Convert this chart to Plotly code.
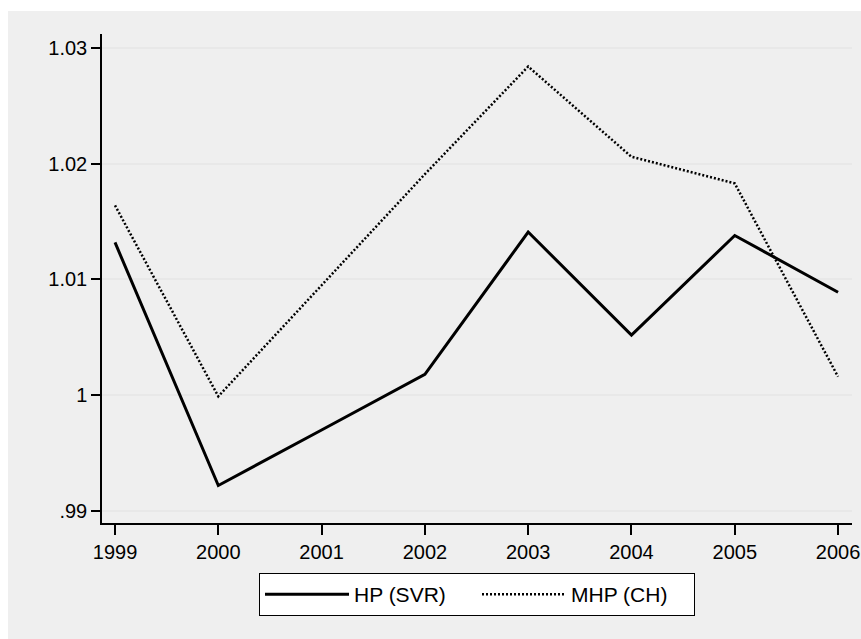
import plotly.graph_objects as go

years = [1999, 2000, 2001, 2002, 2003, 2004, 2005, 2006]
hp_svr = [1.0132, 0.9922, 0.9970, 1.0018, 1.0141, 1.0052, 1.0138, 1.0089]
mhp_ch = [1.0164, 0.9999, 1.0095, 1.0191, 1.0284, 1.0206, 1.0183, 1.0016]
y_ticks = [0.99, 1.0, 1.01, 1.02, 1.03]
y_labels = [".99", "1", "1.01", "1.02", "1.03"]

FONT = "Liberation Sans, Arial, sans-serif"
FS = 20

fig = go.Figure()
fig.add_trace(go.Scatter(x=years, y=hp_svr, mode="lines", name="HP (SVR)",
                         line=dict(color="black", width=3)))
fig.add_trace(go.Scatter(x=years, y=mhp_ch, mode="lines", name="MHP (CH)",
                         line=dict(color="black", width=2.5, dash="2px,2px")))

L, R, T, B = 102, 9, 34, 116
W, H = 861, 639
pw = W - L - R
ph = H - T - B

def px_to_paper_x(px):
    return (px - L) / pw

def px_to_paper_y(py):
    return (H - B - py) / ph

fig.add_shape(type="rect", xref="paper", yref="paper",
              x0=px_to_paper_x(8), x1=px_to_paper_x(861),
              y0=px_to_paper_y(639), y1=px_to_paper_y(11),
              fillcolor="#efefef", line=dict(width=0), layer="below")

fig.update_layout(
    width=W, height=H,
    margin=dict(l=L, r=R, t=T, b=B, pad=0, autoexpand=False),
    paper_bgcolor="white", plot_bgcolor="white",
    font=dict(family=FONT, size=FS, color="black"),
    showlegend=True,
    legend=dict(orientation="h", x=0.5, xanchor="center",
                y=px_to_paper_y(573), yanchor="top",
                bgcolor="white", bordercolor="black", borderwidth=1,
                font=dict(family=FONT, size=21, color="black"),
                itemwidth=84, entrywidth=118, entrywidthmode="pixels",
                tracegroupgap=0),
    xaxis=dict(range=[1998.874, 2006.135], tickmode="array", tickvals=years,
               ticktext=[str(y) for y in years],
               showgrid=False, zeroline=False, showline=True, linecolor="black",
               linewidth=1.5, ticks="outside", ticklen=10, tickcolor="black",
               tickwidth=1.5, tickfont=dict(family=FONT, size=FS, color="black")),
    yaxis=dict(range=[0.98896, 1.03121], tickmode="array", tickvals=y_ticks,
               ticktext=y_labels, showgrid=True, gridcolor="#e8e8e8", gridwidth=1.5,
               zeroline=False, showline=True, linecolor="black", linewidth=1.5,
               ticks="outside", ticklen=9, tickcolor="black", tickwidth=1.5,
               tickfont=dict(family=FONT, size=FS, color="black")),
)

fig.write_html("out.html")
